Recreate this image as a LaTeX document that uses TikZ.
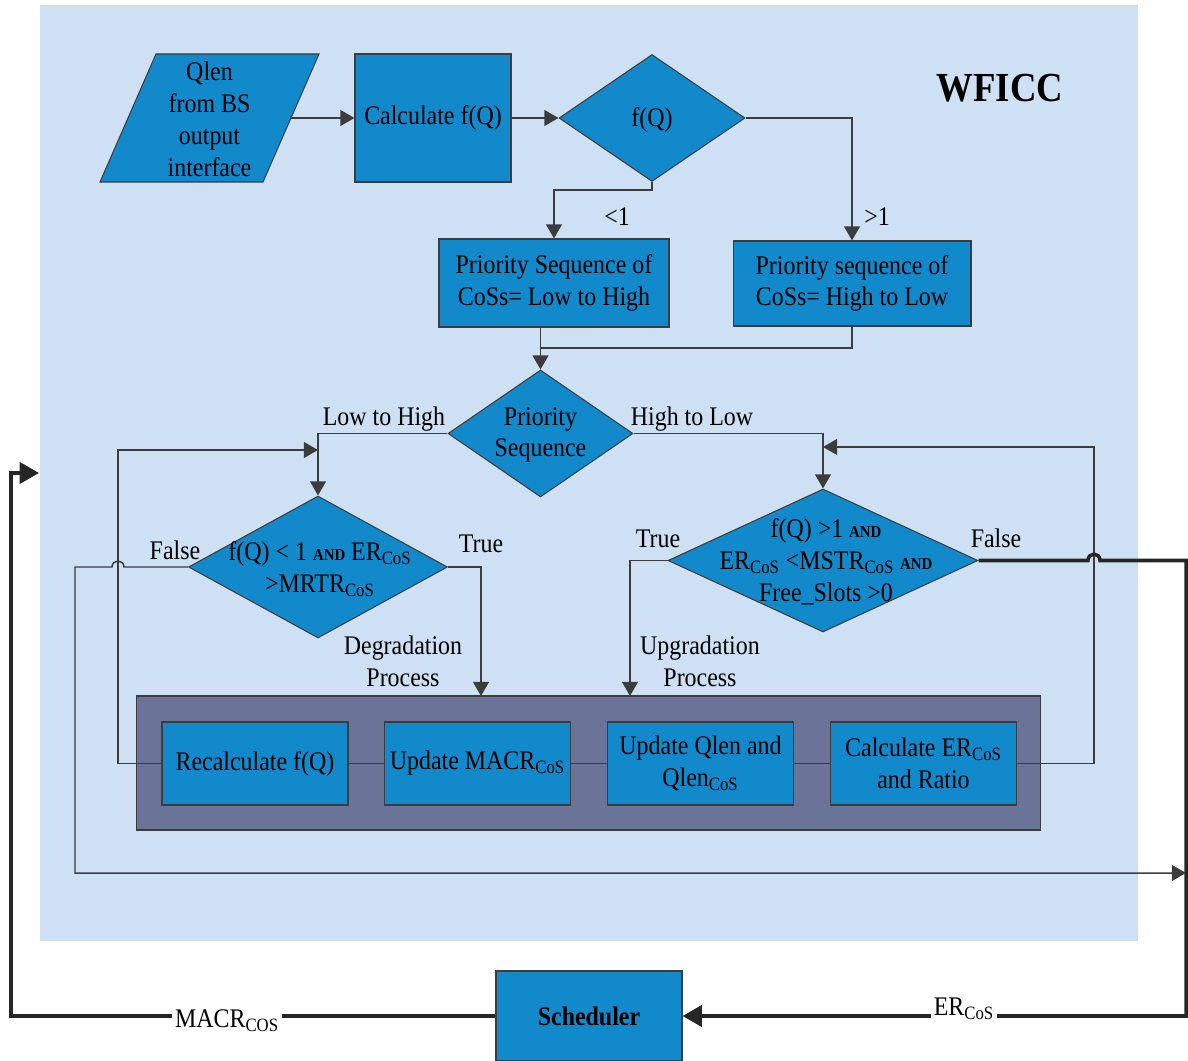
\documentclass[tikz,border=0pt]{standalone}
\usepackage{fontspec}
\setmainfont{Liberation Serif}[FakeStretch=0.89]
\usetikzlibrary{shapes.geometric,arrows.meta,calc}

\definecolor{panel}{RGB}{206,225,244}
\definecolor{boxblue}{RGB}{18,137,203}
\definecolor{slate}{RGB}{105,116,152}
\definecolor{edgecol}{RGB}{60,60,60}
\definecolor{wirecol}{RGB}{60,60,60}
\definecolor{heavycol}{RGB}{38,38,38}

\newcommand\bodyfont{\fontsize{15.3}{18.1}\selectfont}
\newcommand\andtxt{{\fontsize{9.5}{10}\selectfont\bfseries AND}}
\newcommand\cosub[1]{#1\textsubscript{CoS}}

\begin{document}
\begin{tikzpicture}[x=0.02cm,y=-0.02cm,font=\bodyfont,
  blk/.style={draw=edgecol,line width=0.6pt,fill=boxblue,inner sep=0pt,align=center},
  dia/.style={diamond,draw=edgecol,line width=0.6pt,fill=boxblue,inner sep=0pt},
  wire/.style={draw=wirecol,line width=0.85pt},
  arr/.style={wire,-{Triangle[length=8pt,width=9pt]}},
  heavy/.style={draw=heavycol,line width=2pt},
  harr/.style={heavy,-{Triangle[length=11pt,width=12pt]}},
  lbl/.style={inner sep=0pt,align=center}]

\useasboundingbox (0,0) rectangle (1188,1061);
% WFICC panel
\fill[panel] (40,5) rectangle (1138,941);
\node[font=\fontsize{23.5}{26}\selectfont\bfseries] (title) at (1000,88) {WFICC};

% input
\filldraw[fill=boxblue,draw=edgecol,line width=0.6pt] (156,54) -- (319,54) -- (263,182) -- (100,182) -- cycle;
\node[lbl] (qlen) at (209.5,119.5) {Qlen\\from BS\\output\\interface};
\coordinate (qlenR) at (291,118);

\node[blk,minimum width=3.12cm,minimum height=2.56cm] (calc) at (433,118) {Calculate f(Q)};
\node[dia,minimum width=3.72cm,minimum height=2.54cm] (fq) at (652,118) {};
\node[lbl] (fqt) at (652,120) {f(Q)};

\node[blk,minimum width=4.6cm,minimum height=1.76cm] (ps1) at (554,283) {Priority Sequence of\\CoSs= Low to High};
\node[blk,minimum width=4.76cm,minimum height=1.7cm] (ps2) at (852,283.5) {Priority sequence of\\CoSs= High to Low};

\node[dia,minimum width=3.7cm,minimum height=2.54cm] (pd) at (540.5,433.5) {};
\node[lbl] (pdt) at (540.5,435) {Priority\\Sequence};
\coordinate (mrg) at (540.5,348);

\node[dia,minimum width=5.18cm,minimum height=2.84cm] (d1) at (318,567) {};
\node[lbl] (d1t) at (320,569) {f(Q) < 1 \andtxt{} \cosub{ER}\\>\cosub{MRTR}};
\node[dia,minimum width=6.2cm,minimum height=2.86cm] (d2) at (823,560.5) {};
\node[lbl] (d2t) at (826,562) {f(Q) >1 \andtxt\\\cosub{ER} <\cosub{MSTR} \andtxt\\Free\_Slots >0};

% update block
\node[draw=edgecol,line width=0.6pt,fill=slate,minimum width=18.1cm,minimum height=2.68cm] (bb) at (588.5,763) {};
\node[blk,minimum width=3.72cm,minimum height=1.66cm] (b1) at (255,763.5) {Recalculate f(Q)};
\node[blk,minimum width=3.72cm,minimum height=1.66cm] (b2) at (477.5,763.5) {Update \cosub{MACR}};
\node[blk,minimum width=3.72cm,minimum height=1.66cm] (b3) at (700.5,763.5) {Update Qlen and\\\cosub{Qlen}};
\node[blk,minimum width=3.72cm,minimum height=1.66cm] (b4) at (923.5,763.5) {Calculate \cosub{ER}\\and Ratio};

\node[blk,minimum width=3.72cm,minimum height=1.8cm,font=\bodyfont\bfseries] (sch) at (589,1016) {Scheduler};

% branch labels
\node[lbl] (lt1) at (617,217) {<1};
\node[lbl] (gt1) at (877,217) {>1};
\node[lbl] (lth) at (384,419) {Low to High};
\node[lbl] (htl) at (692,419) {High to Low};
\node[lbl] (f1) at (175,550) {False};
\node[lbl] (t1) at (481,544) {True};
\node[lbl] (t2) at (658,539) {True};
\node[lbl] (f2) at (996,538) {False};
\node[lbl] (deg) at (403,661) {Degradation\\Process};
\node[lbl] (upg) at (700,661) {Upgradation\\Process};

% connector end points
\coordinate (j1) at (318,450);
\coordinate (j2) at (823,447);
\coordinate (bbT1) at (481,696);
\coordinate (bbT2) at (630,696);
\coordinate (outR) at (1186,873);
\coordinate (inL) at (39,473);

% top flow
\draw[arr] (qlenR) -- (calc.west);
\draw[arr] (calc.east) -- (fq.west);
\draw[arr] (fq.south) -- ++(0,8) -| (ps1.north);
\draw[arr] (fq.east) -| (ps2.north);
\draw[arr] (ps1.south -| pd.north) -- (pd.north);
\draw[wire] (ps2.south) |- (mrg);
\draw[arr] (pd.west) -| (d1.north);
\draw[arr] (pd.east) -| (d2.north);

% decisions
\draw[arr] (d1.east) -| (bbT1);
\draw[arr] (d2.west) -| (bbT2);
\draw[arr] (d1.west) -- (124,567) .. controls (124,559) and (112,559) .. (112,567) -- (75,567) -- (75,873) -- (outR);

% update chain and loops
\draw[wire] (b1.east) -- (b2.west);
\draw[wire] (b2.east) -- (b3.west);
\draw[wire] (b3.east) -- (b4.west);
\draw[arr] (b1.west) -- (118,763.5) -- (118,450) -- (j1);
\draw[arr] (b4.east) -- (1094,763.5) -- (1094,447) -- (j2);

% scheduler feedback
\draw[harr] (d2.east) -- (1088,560.5) .. controls (1088,552) and (1100,552) .. (1100,560.5) -- (1186,560.5) -- (1186,1016) -- (sch.east);
\draw[harr] (sch.west) -- (11,1016) -- (11,473) -- (inL);
\node[fill=white,inner sep=1.5pt] (er) at (964,1009) {\cosub{ER}};
\node[fill=white,inner sep=1.5pt] (macr) at (227,1021) {MACR\textsubscript{COS}};

\end{tikzpicture}
\end{document}
